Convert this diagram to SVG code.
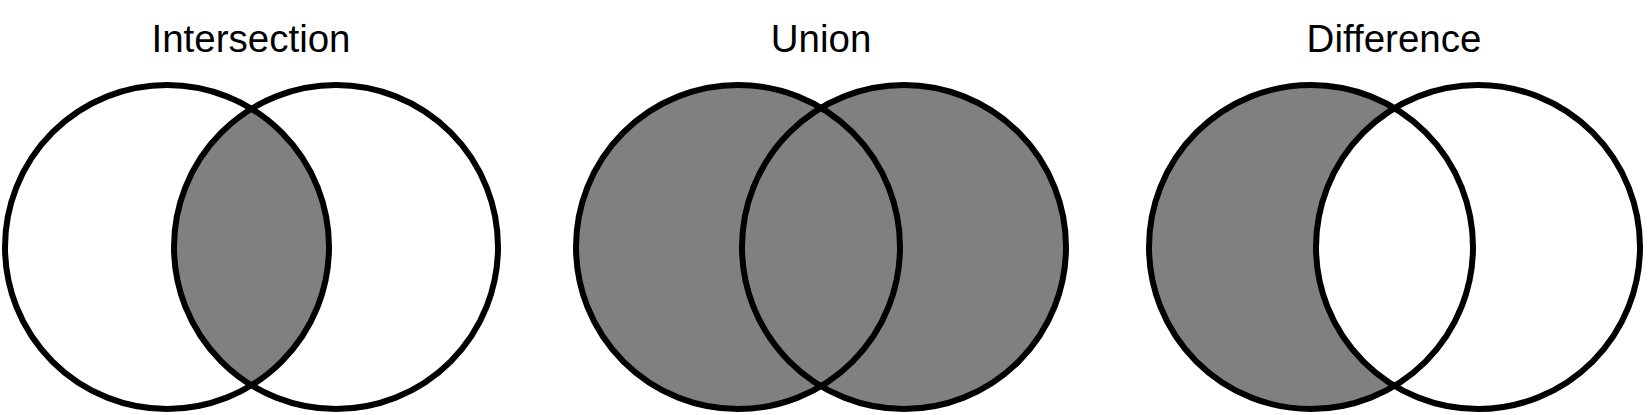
<svg xmlns="http://www.w3.org/2000/svg" width="1650" height="415" viewBox="0 0 1650 415">
  <style>
    .ring { fill: none; stroke: #000; stroke-width: 6; }
    .shade { fill: #808080; stroke: none; }
    .title { font-family: "Liberation Sans", Arial, sans-serif; font-size: 38.5px; fill: #000; text-anchor: middle; }
  </style>
  <rect width="1650" height="415" fill="#fff"/>
  <g id="intersection">
    <path class="shade" d="M251.5 109 A162 162 0 0 1 251.5 385 A162 162 0 0 1 251.5 109 Z"/>
    <circle class="ring" cx="167" cy="247" r="162"/>
    <circle class="ring" cx="336" cy="247" r="162"/>
    <text class="title" x="251" y="52">Intersection</text>
  </g>
  <g id="union">
    <circle class="shade" cx="738" cy="247" r="162"/>
    <circle class="shade" cx="904" cy="247" r="162"/>
    <circle class="ring" cx="738" cy="247" r="162"/>
    <circle class="ring" cx="904" cy="247" r="162"/>
    <text class="title" x="821" y="52">Union</text>
  </g>
  <g id="difference">
    <path class="shade" d="M1394.5 108.4 A162 162 0 1 0 1394.5 385.6 A162 162 0 0 1 1394.5 108.4 Z"/>
    <circle class="ring" cx="1311" cy="247" r="162"/>
    <circle class="ring" cx="1478" cy="247" r="162"/>
    <text class="title" x="1394" y="52">Difference</text>
  </g>
  <g id="connectors"/>
</svg>
